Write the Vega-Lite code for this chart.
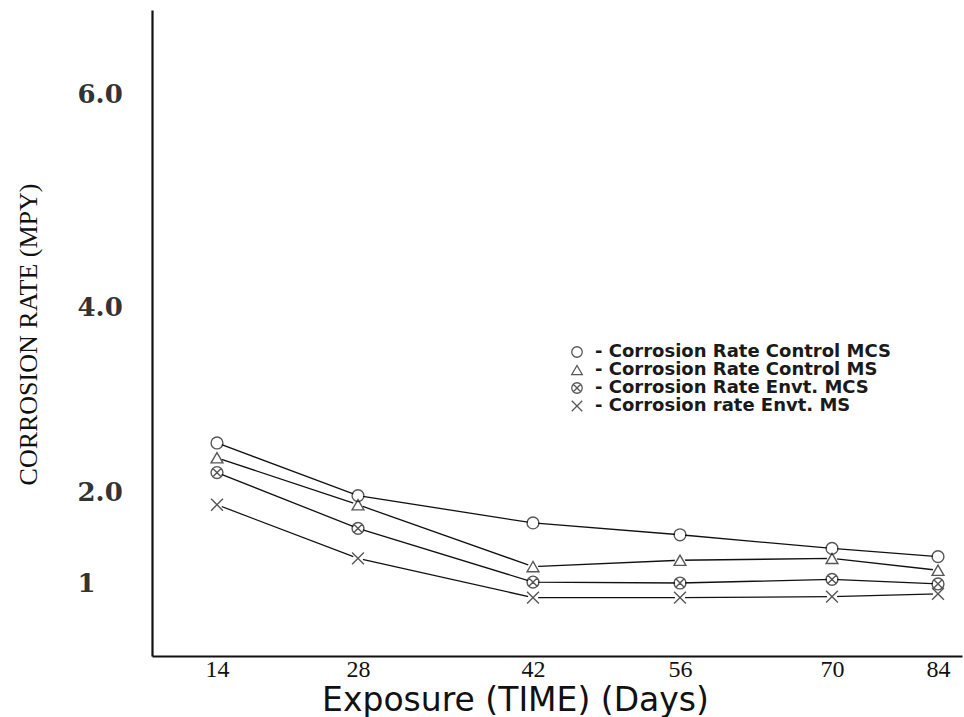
{
  "$schema": "https://vega.github.io/schema/vega-lite/v6.json",
  "autosize": {"type": "none"},
  "padding": {"left": 152, "top": 10, "right": 2, "bottom": 61},
  "width": 810,
  "height": 646,
  "background": "white",
  "config": {"view": {"stroke": null}},
  "data": {
    "values": [
      {"day": 14, "series": "Corrosion Rate Control MCS", "rate": 2.53},
      {"day": 28, "series": "Corrosion Rate Control MCS", "rate": 1.96},
      {"day": 42, "series": "Corrosion Rate Control MCS", "rate": 1.66},
      {"day": 56, "series": "Corrosion Rate Control MCS", "rate": 1.53},
      {"day": 70, "series": "Corrosion Rate Control MCS", "rate": 1.38},
      {"day": 84, "series": "Corrosion Rate Control MCS", "rate": 1.29},
      {"day": 14, "series": "Corrosion Rate Control MS", "rate": 2.37},
      {"day": 28, "series": "Corrosion Rate Control MS", "rate": 1.86},
      {"day": 42, "series": "Corrosion Rate Control MS", "rate": 1.18},
      {"day": 56, "series": "Corrosion Rate Control MS", "rate": 1.25},
      {"day": 70, "series": "Corrosion Rate Control MS", "rate": 1.27},
      {"day": 84, "series": "Corrosion Rate Control MS", "rate": 1.14},
      {"day": 14, "series": "Corrosion Rate Envt. MCS", "rate": 2.21},
      {"day": 28, "series": "Corrosion Rate Envt. MCS", "rate": 1.6},
      {"day": 42, "series": "Corrosion Rate Envt. MCS", "rate": 1.01},
      {"day": 56, "series": "Corrosion Rate Envt. MCS", "rate": 1.0},
      {"day": 70, "series": "Corrosion Rate Envt. MCS", "rate": 1.04},
      {"day": 84, "series": "Corrosion Rate Envt. MCS", "rate": 0.99},
      {"day": 14, "series": "Corrosion rate Envt. MS", "rate": 1.86},
      {"day": 28, "series": "Corrosion rate Envt. MS", "rate": 1.27},
      {"day": 42, "series": "Corrosion rate Envt. MS", "rate": 0.84},
      {"day": 56, "series": "Corrosion rate Envt. MS", "rate": 0.84},
      {"day": 70, "series": "Corrosion rate Envt. MS", "rate": 0.85},
      {"day": 84, "series": "Corrosion rate Envt. MS", "rate": 0.88}
    ]
  },
  "encoding": {
    "x": {
      "field": "day",
      "type": "quantitative",
      "scale": {
        "domain": [7.5, 14, 28, 42, 56, 70, 84, 87.2],
        "range": [0, 65, 206, 381, 528, 680, 786, 810],
        "zero": false,
        "nice": false
      },
      "axis": {
        "values": [14, 28, 42, 56, 70, 84],
        "ticks": false,
        "grid": false,
        "domainColor": "#111111",
        "domainWidth": 2.2,
        "labelFont": "Liberation Serif",
        "labelFontSize": 24,
        "labelColor": "#111111",
        "labelPadding": 1,
        "labelBaseline": "top",
        "title": "Exposure (TIME) (Days)",
        "titleFont": "DejaVu Sans",
        "titleFontSize": 33,
        "titleFontWeight": "normal",
        "titleColor": "#111111",
        "titleX": 363,
        "titleY": 44,
        "titleBaseline": "middle",
        "titleAlign": "center"
      }
    },
    "y": {
      "field": "rate",
      "type": "quantitative",
      "scale": {
        "domain": [0.2, 1, 2, 4, 6, 6.8],
        "range": [646, 573, 482, 297, 84, 0],
        "zero": false,
        "nice": false
      },
      "axis": {
        "values": [1, 2, 4, 6],
        "labelExpr": "datum.value == 1 ? '1' : format(datum.value, '.1f')",
        "ticks": false,
        "grid": false,
        "domainColor": "#111111",
        "domainWidth": 2.2,
        "labelFont": "DejaVu Serif",
        "labelFontSize": 26,
        "labelFontWeight": "bold",
        "labelColor": "#333333",
        "labelAlign": "left",
        "labelBaseline": "middle",
        "labelPadding": 75,
        "title": "CORROSION RATE (MPY)",
        "titleFont": "Liberation Serif",
        "titleFontSize": 26,
        "titleFontWeight": "normal",
        "titleColor": "#111111",
        "titleAngle": -90,
        "titleX": -124,
        "titleY": 324,
        "titleAlign": "center",
        "titleBaseline": "middle"
      }
    }
  },
  "layer": [
    {
      "mark": {"type": "line", "color": "#111111", "strokeWidth": 1.3},
      "encoding": {"detail": {"field": "series", "type": "nominal"}}
    },
    {
      "mark": {"type": "point", "filled": true, "color": "white", "opacity": 1, "size": 105, "shape": "circle"},
      "encoding": {"detail": {"field": "series", "type": "nominal"}}
    },
    {
      "mark": {"type": "point", "filled": false, "color": "#111111", "strokeWidth": 1.4, "size": 140},
      "encoding": {
        "shape": {
          "field": "series",
          "type": "nominal",
          "scale": {
            "domain": ["Corrosion Rate Control MCS", "Corrosion Rate Control MS", "Corrosion Rate Envt. MCS", "Corrosion rate Envt. MS"],
            "range": ["circle", "triangle-up", "M1,0A1,1,0,1,1,-1,0A1,1,0,1,1,1,0ZM-0.7,-0.7L0.7,0.7M-0.7,0.7L0.7,-0.7", "M-1,-1L1,1M-1,1L1,-1"]
          },
          "legend": {
            "title": null,
            "orient": "none",
            "legendX": 416,
            "legendY": 333,
            "labelExpr": "'- ' + datum.label",
            "labelFont": "DejaVu Sans",
            "labelFontSize": 18,
            "labelFontWeight": "bold",
            "labelColor": "#1a1a1a",
            "labelOffset": 9,
            "labelLimit": 500,
            "rowPadding": -1,
            "symbolSize": 110,
            "symbolStrokeColor": "#111111",
            "symbolStrokeWidth": 1.3
          }
        }
      }
    }
  ]
}
